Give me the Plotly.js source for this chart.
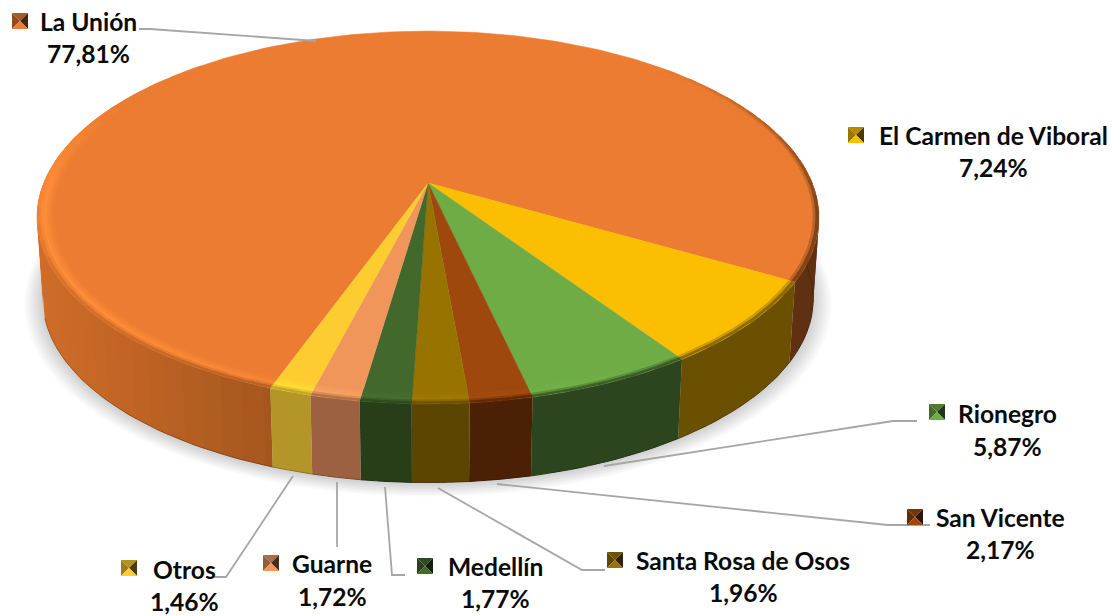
<!DOCTYPE html>
<html><head><meta charset="utf-8">
<script src="https://cdn.plot.ly/plotly-3.0.1.min.js"></script>
<style>html,body{margin:0;padding:0;background:#fff}#c{width:1113px;height:616px}</style>
</head><body><div id="c"></div>
<script>
// ---- data (clockwise from the start of La Unión) ----
const categories = ["La Unión","El Carmen de Viboral","Rionegro","San Vicente","Santa Rosa de Osos","Medellín","Guarne","Otros"];
const values = [77.81,7.24,5.87,2.17,1.96,1.77,1.72,1.46];
const percentLabels = ["77,81%","7,24%","5,87%","2,17%","1,96%","1,77%","1,72%","1,46%"];
const faceColors = ["#EB7C31","#FBBE00","#6FAC46","#9E480E","#997300","#43682B","#F0965A","#FCCC30"];
const sideColors = ["#A3551E","#6A5000","#2D451E","#4C2005","#5B4500","#273E19","#9C6140","#B39528"];

// ---- layout of the drawing ----
const labelCentres = [[88,21,53],[993,135,167],[1007,413,446],[1000,517,549],[743,560,592],[495,566,598],[332,563,596],[184,569,601]];
const keyCentres = [[20,21],[856,135],[937,412],[915,517],[615,560],[425,566],[271,563],[129,568]];
const leaders = [
 [[139,29],[150,29],[316,41]],
 [],
 [[604,466],[893,421],[917,421]],
 [[497,484],[888,525],[930,525]],
 [[438,488],[582,570],[605,570]],
 [[385,487],[392,575],[405,575]],
 [[337,482],[337,547]],
 [[293,476],[226,577],[213,577]]
];
const startAngle = 199.8, CX = 428, CY = 183, K = 0.185, A = 384.3, B = 180;
const DROP = 82, BOTTOM_SCALE = 0.985, BEVEL_IN = 0.958;

// ---- helpers ----
const rgb = h => [1,3,5].map(i => parseInt(h.substr(i,2),16));
const hex = c => '#' + c.map(v => Math.max(0,Math.min(255,Math.round(v))).toString(16).padStart(2,'0')).join('');
const mix = (a,b,t) => hex(rgb(a).map((v,i) => v + (rgb(b)[i]-v)*t));
const times = (a,f) => hex(rgb(a).map(v => v*f));
const clamp = v => Math.max(0,Math.min(1,v));
const norm = d => ((d%360)+360)%360;
function proj(deg, r, drop, scale){
  const p = deg*Math.PI/180, u = r*Math.sin(p), v = -r*Math.cos(p), w = 1-K*v;
  return [CX + scale*A*u/w, CY + drop + scale*B*v/w];
}
function arc(a0,a1,r,drop,scale){
  const n = Math.max(2,Math.ceil(Math.abs(a1-a0)/1.5)), pts = [];
  for(let i=0;i<=n;i++) pts.push(proj(a0+(a1-a0)*i/n,r,drop,scale));
  return pts;
}
const traces = [];
function poly(pts,color,extra){
  traces.push(Object.assign({type:'scatter',mode:'lines',x:pts.map(p=>p[0]),y:pts.map(p=>p[1]),
    fill:'toself',fillcolor:color,line:{width:0,color:color},hoverinfo:'skip',showlegend:false},extra||{}));
}

// slice angles come from the values
const total = values.reduce((a,b)=>a+b,0);
let acc = startAngle;
const slices = values.map((v,i)=>{const a0=acc; acc+=v/total*360; return {i,a0,a1:acc};});

function sideAt(s,deg){
  if(s.i!==0) return sideColors[s.i];
  const x = proj(deg,1,0,1)[0];
  if(x<272) return mix('#CF6C28','#A3551E',clamp((x-38)/234));
  return '#5F3011';
}

// soft shadow
for(let i=0;i<10;i++){
  const sc = 0.985 + i*0.0052, d = DROP + 1 + i*0.3;
  poly(arc(0,360,1,d,sc),'rgba(0,0,0,0.02)');
}
// side wall: narrow overlapping strips, so the outline follows the extrusion without seams
slices.forEach(s=>{
  const span=s.a1-s.a0, parts=Math.max(1,Math.ceil(span/3));
  for(let p=0;p<parts;p++){
    const a1=s.a0+span*(p+1)/parts, a0=Math.max(s.a0,s.a0+span*p/parts-2), mid=a1-span/parts/2, n=norm(mid);
    if(n>300||n<60) continue;
    const col=sideAt(s,mid);
    poly(arc(a0,a1,1,0,1).concat(arc(a1,a0,1,DROP,BOTTOM_SCALE)),col);
  }
});
// darker lower edge of the side wall
slices.forEach(s=>{
  const span=s.a1-s.a0, parts=Math.max(1,Math.ceil(span/6));
  for(let p=0;p<parts;p++){
    const a0=s.a0+span*p/parts, a1=s.a0+span*(p+1)/parts, mid=(a0+a1)/2, n=norm(mid);
    if(n>255||n<75) continue;
    const pts=arc(a0,a1,1,DROP,BOTTOM_SCALE);
    traces.push({type:'scatter',mode:'lines',x:pts.map(q=>q[0]),y:pts.map(q=>q[1]),
      line:{width:1,color:times(sideAt(s,mid),0.8)},hoverinfo:'skip',showlegend:false});
  }
});
// top face
slices.forEach(s=>{ poly([[CX,CY]].concat(arc(s.a0,s.a1,1,0,1)),faceColors[s.i],{line:{width:0.5,color:faceColors[s.i]}}); });
// rounded rim
const RINGS = 6;
function rimColor(s,deg,t){
  const n = norm(deg), face = faceColors[s.i], hi = times(face,1.14);
  const h = n<230 ? clamp((n-150)/80) : clamp((300-n)/30);
  const e = n<100 ? clamp((n-45)/55) : clamp((278-n)/35);
  const c = mix(face,hi,h);
  if(t<=0.6) return mix(face,hi,h*t/0.6);
  return mix(c,sideAt(s,deg),e*Math.pow((t-0.6)/0.4,1.2));
}
slices.forEach(s=>{
  const span = s.a1-s.a0, parts = Math.max(1,Math.ceil(span/5));
  for(let p=0;p<parts;p++){
    const a1=s.a0+span*(p+1)/parts, a0=Math.max(s.a0,s.a0+span*p/parts-1.5), mid=a1-span/parts/2, n=norm(mid);
    if(n>320||n<40) continue;
    for(let j=0;j<RINGS;j++){
      const r0=BEVEL_IN+(1-BEVEL_IN)*j/RINGS-0.002, r1=BEVEL_IN+(1-BEVEL_IN)*(j+1)/RINGS;
      poly(arc(a0,a1,r1,0,1).concat(arc(a1,a0,r0,0,1)),rimColor(s,mid,(j+0.5)/RINGS));
    }
  }
});
// leader lines
leaders.forEach(l=>{ if(l.length) traces.push({type:'scatter',mode:'lines',x:l.map(p=>p[0]),y:l.map(p=>p[1]),
  line:{color:'#A6A6A6',width:1.8},hoverinfo:'skip',showlegend:false}); });
// legend keys
keyCentres.forEach((c,i)=>{
  const [x,y]=c, h=8, f=faceColors[i];
  poly([[x-h,y-h],[x+h,y-h],[x,y]],times(f,0.72));
  poly([[x-h,y-h],[x-h,y+h],[x,y]],times(f,0.62));
  poly([[x+h,y-h],[x+h,y+h],[x,y]],times(f,0.3));
  poly([[x-h,y+h],[x+h,y+h],[x,y]],f);
});
// labels
const annotations=[];
categories.forEach((name,i)=>{
  const [x,y1,y2]=labelCentres[i];
  const base={x,xref:'x',yref:'y',showarrow:false,xanchor:'center',yanchor:'middle',
    font:{family:'Lato, "Open Sans", sans-serif',size:24.6,color:'#0A0A0A',weight:700}};
  annotations.push(Object.assign({},base,{y:y1,text:name}));
  annotations.push(Object.assign({},base,{y:y2,text:percentLabels[i]}));
});
Plotly.newPlot('c',traces,{
  width:1113,height:616,margin:{l:0,r:0,t:0,b:0},paper_bgcolor:'#fff',plot_bgcolor:'#fff',showlegend:false,
  xaxis:{range:[0,1113],visible:false,fixedrange:true},
  yaxis:{range:[616,0],visible:false,fixedrange:true},
  annotations
},{staticPlot:true,displayModeBar:false});
</script></body></html>
